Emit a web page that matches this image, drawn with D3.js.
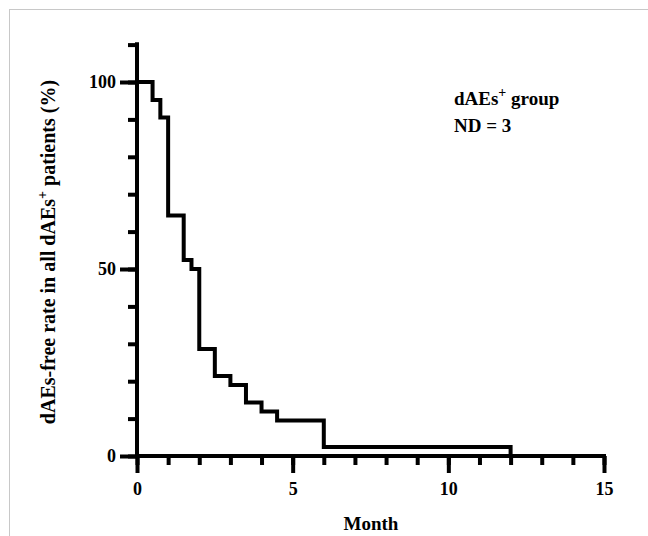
<!DOCTYPE html>
<html>
<head>
<meta charset="utf-8">
<script src="https://cdn.jsdelivr.net/npm/d3@7"></script>
<style>
  body { margin: 0; background: #fff; }
  text { font-family: "Liberation Serif", "Times New Roman", serif; font-weight: bold; fill: #000; }
</style>
</head>
<body>
<div id="chart"></div>
<script>
// Kaplan-Meier style step data
var months   = [0, 0.5, 0.75, 1, 1.5, 1.75, 2, 2.5, 3, 3.5, 4, 4.5, 6, 12];
var freeRate = [100, 95.2, 90.5, 64.3, 52.4, 50, 28.6, 21.4, 19.0, 14.3, 11.9, 9.5, 2.4, 0];
var xMajorTicks = [0, 5, 10, 15];
var yMajorTicks = [0, 50, 100];

var chartWidth = 648, chartHeight = 536;
var margin = {left: 137, top: 44.6},
    width  = 604 - 137,
    height = 456 - 44.6;

var strokeW = 4;

var svg = d3.select("#chart").append("svg")
    .attr("width", chartWidth)
    .attr("height", chartHeight);

// light frame
svg.append("rect")
    .attr("x", 9.5).attr("y", 9.5)
    .attr("width", 700).attr("height", 600)
    .attr("fill", "none")
    .attr("stroke", "#c8c8c8")
    .attr("stroke-width", 1);

var g = svg.append("g")
    .attr("transform", "translate(" + margin.left + "," + margin.top + ")");

var x = d3.scaleLinear().domain([0, 15]).range([0, width]);
var y = d3.scaleLinear().domain([0, 110]).range([height, 0]);

var points = months.map(function(m, i) { return {month: m, rate: freeRate[i]}; });

var line = d3.line()
    .x(function(d) { return x(d.month); })
    .y(function(d) { return y(d.rate); })
    .curve(d3.curveStepAfter);

// x axis: minor ticks every month, major every 5
var xAxisMinor = d3.axisBottom(x).tickValues(d3.range(0, 16, 1)).tickSize(9).tickFormat("");
var xAxisMajor = d3.axisBottom(x).tickValues(xMajorTicks).tickSize(17).tickPadding(9).tickFormat(d3.format("d"));

var yAxisMinor = d3.axisLeft(y).tickValues(d3.range(0, 111, 10)).tickSize(9).tickFormat("");
var yAxisMajor = d3.axisLeft(y).tickValues(yMajorTicks).tickSize(17).tickPadding(4).tickFormat(d3.format("d"));

[xAxisMinor, xAxisMajor].forEach(function(ax) {
  g.append("g")
      .attr("class", "axis x")
      .attr("transform", "translate(0," + height + ")")
      .call(ax);
});
[yAxisMinor, yAxisMajor].forEach(function(ax) {
  g.append("g")
      .attr("class", "axis y")
      .call(ax);
});

g.selectAll(".axis.x path.domain").attr("d", "M0,0H" + width);
g.selectAll(".axis.y path.domain").attr("d", "M0,0V" + height);
g.selectAll(".axis path.domain")
    .attr("stroke", "#000")
    .attr("stroke-width", strokeW)
    .attr("stroke-linecap", "square");
g.selectAll(".axis line").attr("stroke", "#000").attr("stroke-width", strokeW);
g.selectAll(".axis text")
    .style("font-family", "'Liberation Serif', serif")
    .style("font-weight", "bold")
    .style("font-size", "18px")
    .attr("fill", "#000");

g.append("path")
    .datum(points)
    .attr("fill", "none")
    .attr("stroke", "#000")
    .attr("stroke-width", strokeW)
    .attr("stroke-linejoin", "miter")
    .attr("d", line);

// axis titles
svg.append("text")
    .attr("x", 371).attr("y", 530)
    .attr("text-anchor", "middle")
    .style("font-size", "19px")
    .text("Month");

var yTitle = svg.append("text")
    .attr("transform", "translate(55,252) rotate(-90)")
    .attr("text-anchor", "middle")
    .style("font-size", "20px");
yTitle.append("tspan").text("dAEs-free rate in all dAEs");
yTitle.append("tspan").attr("dy", -8).style("font-size", "14px").text("+");
yTitle.append("tspan").attr("dy", 8).text(" patients (%)");

// annotation
var note = svg.append("text")
    .attr("x", 454).attr("y", 105)
    .style("font-size", "19px");
note.append("tspan").text("dAEs");
note.append("tspan").attr("dy", -8).style("font-size", "14px").text("+");
note.append("tspan").attr("dy", 8).text(" group");

svg.append("text")
    .attr("x", 454).attr("y", 132)
    .style("font-size", "19px")
    .text("ND = 3");
</script>
</body>
</html>
